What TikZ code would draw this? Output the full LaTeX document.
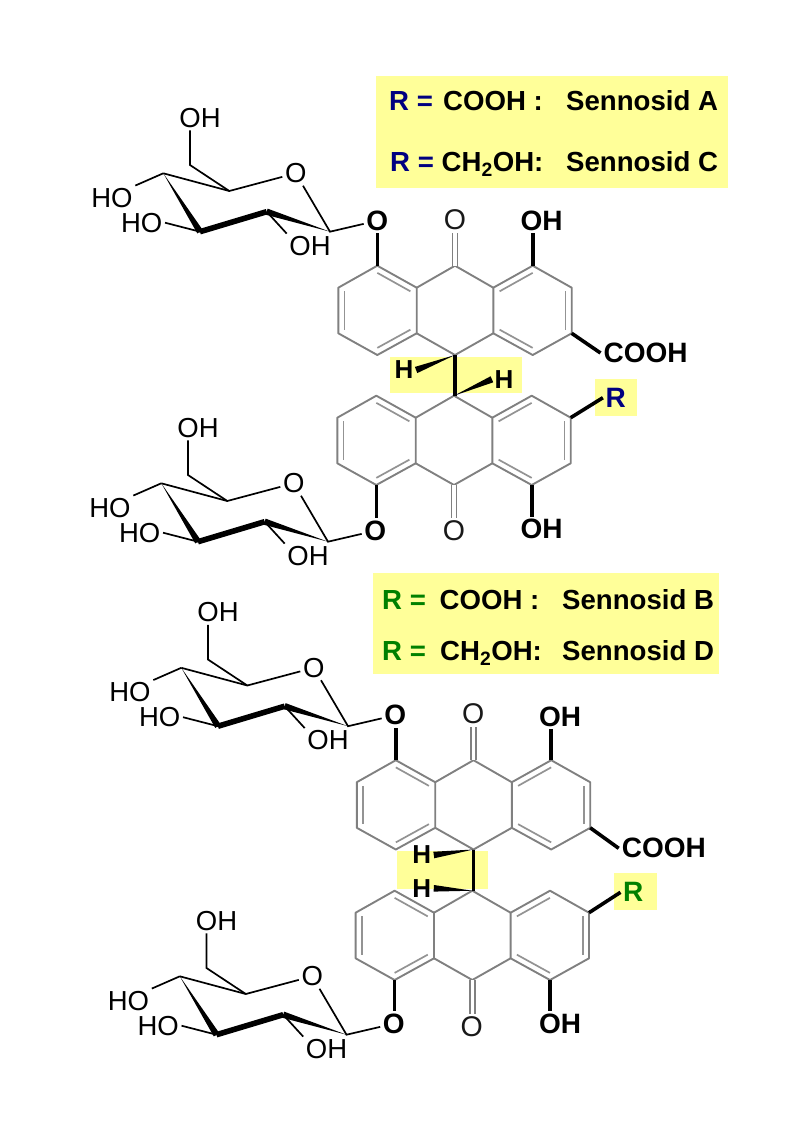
\documentclass[tikz,border=0pt]{standalone}
\usepackage{fontspec}
\setmainfont{Liberation Sans}
\usetikzlibrary{calc}
\definecolor{hiliteyellow}{HTML}{FFFF99}
\definecolor{rblue}{HTML}{000080}
\definecolor{rgreen}{HTML}{008000}
\definecolor{ringgray}{HTML}{808080}
\tikzset{
    thinatom/.style={inner sep=2.5pt, font=\fontsize{27.5}{30}\selectfont},
    boldatom/.style={inner sep=2.5pt, font=\fontsize{28}{30}\selectfont\bfseries},
    ketoatom/.style={inner sep=2.5pt, text=black!90, font=\fontsize{28.5}{30}\selectfont},
    hatom/.style={inner sep=2.5pt, font=\fontsize{26}{28}\selectfont\bfseries},
    legend/.style={anchor=base west, inner sep=0pt, font=\fontsize{27.6}{30}\selectfont\bfseries},
    thinbond/.style={line width=1.7pt, black},
    boldbond/.style={line width=3.6pt, black},
    ringbond/.style={line width=1.9pt, ringgray, line join=round},
    innerbond/.style={line width=1.7pt, ringgray!85},
    ketobond/.style={line width=1.5pt, ringgray, double=white, double distance=3.4pt},
    hilite/.style={fill=hiliteyellow}
}
\newcommand{\wedgebond}[3]{\fill ($#2!#3!90:#1$) -- #1 -- ($#2!#3!-90:#1$) -- cycle;}
\newcommand{\sugarring}[2]{
    \begin{scope}[shift={#2}]
        \coordinate (#1c1) at (330,231.7);
        \coordinate (#1c2) at (266.7,211.7);
        \coordinate (#1c3) at (200,231.7);
        \coordinate (#1c4) at (163.3,173.3);
        \coordinate (#1c5) at (229.3,191);
        \coordinate (#1c6) at (190,165);
        \node[thinatom] (#1oring) at (295.7,173.3) {O};
        \node[thinatom] (#1oh6) at (200,118) {OH};
        \node[thinatom] (#1ho4) at (112,198) {HO};
        \node[thinatom] (#1ho3) at (141.7,222.7) {HO};
        \node[thinatom] (#1oh2) at (310,246) {OH};
        \node[boldatom] (#1olink) at (377.3,220.7) {O};
    \end{scope}
    \draw[thinbond] (#1c4) -- (#1c5) -- (#1oring) -- (#1c1) -- (#1olink);
    \draw[thinbond] (#1c5) -- (#1c6) -- (#1c6 |- #1oh6.south);
    \draw[thinbond] (#1c4) -- (#1ho4.north east);
    \draw[thinbond] (#1c3) -- (#1ho3.east);
    \draw[thinbond] (#1c2) -- (#1oh2.north west);
    \draw[line width=5.6pt, black] (#1c3) -- (#1c2);
    \wedgebond{(#1c4)}{(#1c3)}{3.2pt}
    \wedgebond{(#1c1)}{(#1c2)}{3.2pt}
}
\newcommand{\tricycle}[2]{
    \begin{scope}[shift={#2}]
        \coordinate (#1ct) at (455,265.7);
        \coordinate (#1cb) at (455,355);
        \coordinate (#1la) at (377.3,265.7);
        \coordinate (#1lb) at (338.3,287.7);
        \coordinate (#1lc) at (338.3,333.3);
        \coordinate (#1ld) at (377.3,355);
        \coordinate (#1le) at (416.7,333.3);
        \coordinate (#1lf) at (416.7,287.7);
        \coordinate (#1ra) at (532.7,265.7);
        \coordinate (#1rb) at (571.7,287.7);
        \coordinate (#1rc) at (571.7,333.3);
        \coordinate (#1rd) at (532.7,355);
        \coordinate (#1re) at (493.3,333.3);
        \coordinate (#1rf) at (493.3,287.7);
        \coordinate (#1cl) at (377.5,310.5);
        \coordinate (#1cr) at (532.5,310.5);
    \end{scope}
    \draw[ringbond] (#1la) -- (#1lb) -- (#1lc) -- (#1ld) -- (#1le) -- (#1lf) -- cycle;
    \draw[ringbond] (#1ra) -- (#1rb) -- (#1rc) -- (#1rd) -- (#1re) -- (#1rf) -- cycle;
    \draw[ringbond] (#1lf) -- (#1ct) -- (#1rf);
    \draw[ringbond] (#1le) -- (#1cb) -- (#1re);
    \foreach \p/\q/\c in {la/lf/cl, lb/lc/cl, ld/le/cl, ra/rf/cr, rb/rc/cr, rd/re/cr}
        \draw[innerbond] ($(#1\p)!0.16!(#1\c)$) -- ($(#1\q)!0.16!(#1\c)$);
}

\begin{document}
\begin{tikzpicture}[x=1pt, y=-1pt]
    \useasboundingbox (0,0) rectangle (794,1123);
    \fill[hilite] (376,76) rectangle (728.3,187.7);
    \fill[hilite] (372.7,573.3) rectangle (719.3,674);
    \fill[hilite] (390,356.7) rectangle (521.7,393.3);
    \fill[hilite] (595,379) rectangle (636.7,415.7);
    \fill[hilite] (397.3,851) rectangle (487.7,889);
    \fill[hilite] (614,873) rectangle (656.7,910);

    \node[legend, text=rblue] (ra1) at (389,110.7) {R =};
    \node[legend] (ra2) at (443,110.7) {COOH :};
    \node[legend] (ra3) at (566,110.7) {Sennosid A};
    \node[legend, text=rblue] (rc1) at (390,172) {R =};
    \node[legend] (rc2) at (441.5,172) {CH\textsubscript{2}OH:};
    \node[legend] (rc3) at (566,172) {Sennosid C};
    \node[legend, text=rgreen] (rb1) at (382,609.3) {R =};
    \node[legend] (rb2) at (439.5,609.3) {COOH :};
    \node[legend] (rb3) at (562,609.3) {Sennosid B};
    \node[legend, text=rgreen] (rd1) at (382,660.7) {R =};
    \node[legend] (rd2) at (440,660.7) {CH\textsubscript{2}OH:};
    \node[legend] (rd3) at (562,660.7) {Sennosid D};

    \sugarring{sa}{(0,0)}
    \sugarring{sb}{(-2,310)}
    \sugarring{sc}{(18,494.5)}
    \sugarring{sd}{(16.5,803)}

    \tricycle{ta}{(0,0)}
    \tricycle{tb}{(-1,130)}
    \tricycle{tc}{(18.5,494.5)}
    \tricycle{td}{(17.3,625)}

    \node[ketoatom] (oa) at (455,220) {O};
    \node[boldatom] (oha) at (541.7,220.7) {OH};
    \node[boldatom, anchor=west, inner sep=3pt] (cooha) at (600.5,353) {COOH};
    \node[ketoatom] (ob) at (454,531) {O};
    \node[boldatom] (ohb) at (541.7,529.3) {OH};
    \node[boldatom, text=rblue] (rtop) at (615.7,397.7) {R};
    \node[hatom] (hal) at (404,370) {H};
    \node[hatom] (har) at (504,379.3) {H};

    \node[ketoatom] (oc) at (473.3,714) {O};
    \node[boldatom] (ohc) at (560,716.7) {OH};
    \node[boldatom, anchor=west, inner sep=3pt] (coohc) at (618.7,848.3) {COOH};
    \node[ketoatom] (od) at (471.7,1026.7) {O};
    \node[boldatom] (ohd) at (560,1024) {OH};
    \node[boldatom, text=rgreen] (rbot) at (633.3,892.3) {R};
    \node[hatom] (hcu) at (421.7,855) {H};
    \node[hatom] (hcl) at (421.7,888.3) {H};

    \draw[ketobond] (tact) -- (tact |- oa.south);
    \draw[ketobond] (tbcb) -- (tbcb |- ob.north);
    \draw[ketobond] (tcct) -- (tcct |- oc.south);
    \draw[ketobond] (tdcb) -- (tdcb |- od.north);

    \draw[boldbond] (tala) -- (tala |- saolink.south);
    \draw[boldbond] (tara) -- (tara |- oha.south);
    \draw[boldbond] (tarc) -- (cooha.west);
    \draw[boldbond] (tbld) -- (tbld |- sbolink.north);
    \draw[boldbond] (tbrd) -- (tbrd |- ohb.north);
    \draw[boldbond] (tbrb) -- (rtop.west);
    \draw[boldbond] (tacb) -- (tacb |- tbct);
    \wedgebond{(tacb)}{(hal.east)}{3.3pt}
    \wedgebond{(tbct)}{(har.west)}{3.3pt}

    \draw[boldbond] (tcla) -- (tcla |- scolink.south);
    \draw[boldbond] (tcra) -- (tcra |- ohc.south);
    \draw[boldbond] (tcrc) -- (coohc.west);
    \draw[boldbond] (tdld) -- (tdld |- sdolink.north);
    \draw[boldbond] (tdrd) -- (tdrd |- ohd.north);
    \draw[boldbond] (tdrb) -- (rbot.west);
    \draw[boldbond] (tccb) -- (tccb |- tdct);
    \wedgebond{(tccb)}{(hcu.east)}{3.3pt}
    \wedgebond{(tdct)}{(hcl.east)}{3.3pt}
\end{tikzpicture}
\end{document}
